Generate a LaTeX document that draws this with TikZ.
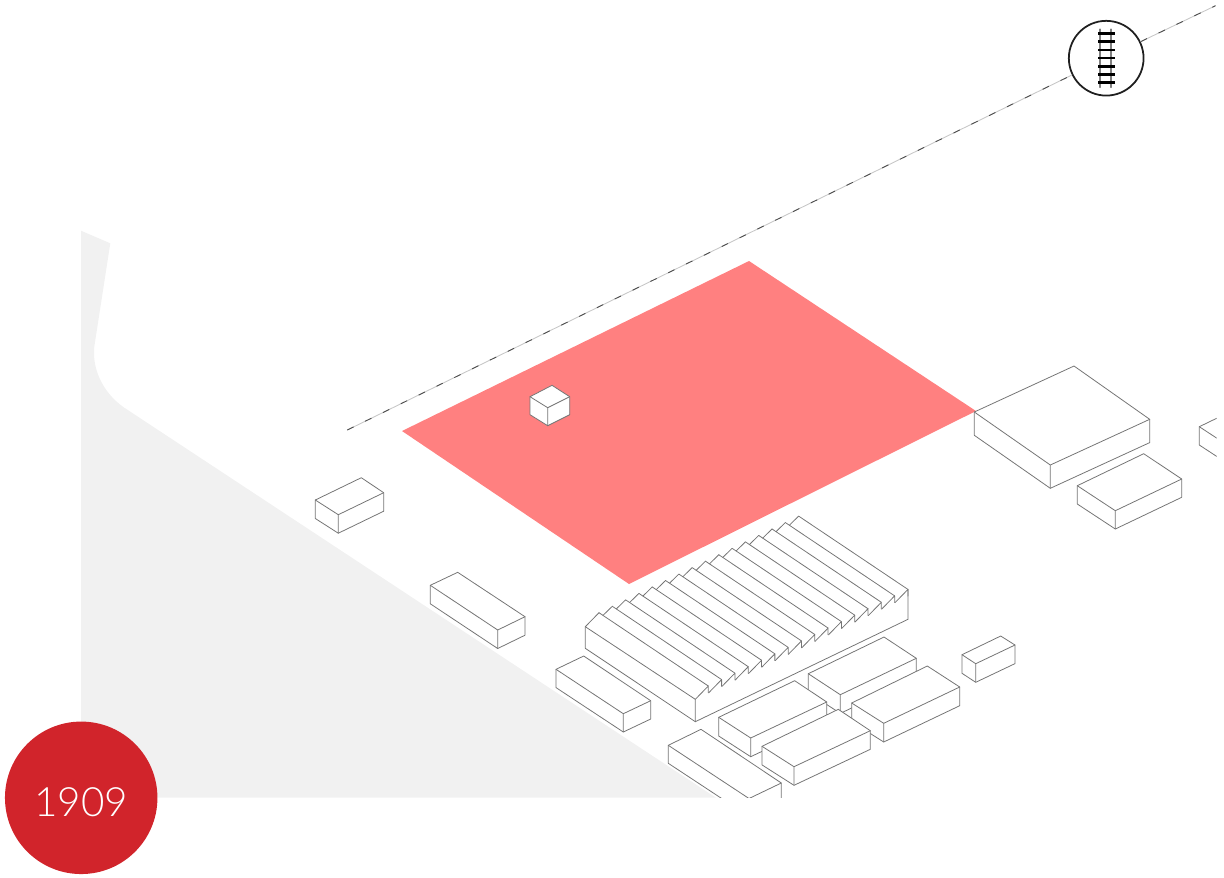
\documentclass[tikz,border=0pt]{standalone}
\usepackage{fontspec}
\usetikzlibrary{calc}
\newfontfamily\yearfont{Lato Light}
\definecolor{groundgray}{HTML}{F1F1F1}
\definecolor{plotpink}{HTML}{FF8080}
\definecolor{badgered}{HTML}{D1242B}
\definecolor{edgegray}{HTML}{757575}
% top corners: left, back, right, front; last argument is the wall height
\newcommand{\isoblock}[5]{%
  \filldraw[block] (#1) -- (#2) -- (#3) -- ++(0,#5) -- ($(#4)+(0,#5)$) -- ($(#1)+(0,#5)$) -- cycle;
  \draw[edge] (#1) -- (#4) -- (#3) (#4) -- ++(0,#5);}
\begin{document}
\begin{tikzpicture}[x=0.02cm, y=-0.02cm, line cap=round,
  edge/.style={draw=edgegray, line width=0.45pt, line join=round},
  block/.style={edge, fill=white},
  railline/.style={draw=black!22, line width=0.5pt,
    postaction={draw=black!70, line cap=butt, dash pattern=on 4pt off 7.3pt}},
  railmark/.style={draw=black!88, fill=white, circle, line width=1pt, minimum size=1.495cm, inner sep=0pt},
  badge/.style={fill=badgered, circle, minimum size=3.05cm, inner sep=0pt, text=white, text height=21.5pt, text depth=0pt,
    font=\yearfont\fontsize{23}{23}\selectfont}]
\useasboundingbox (0,0) rectangle (1224,877);

% ---------- ground and building plot ----------
\fill[groundgray] (81,230.7) -- (110.3,243.3) -- (94.3,346.7) .. controls (92,368) and (102,392) .. (124,407.5)
  -- (716,797.7) -- (81,797.7) -- cycle;
\fill[plotpink] (402,431) -- (749,261) -- (976,411) -- (629,584) -- cycle;

% ---------- railway line with its marker ----------
\coordinate (linestart) at (347.3,430);
\coordinate (lineend) at (1215.5,5.7);
\node[railmark] (rail) at (1106.2,58.2) {};
\draw[railline] (linestart) -- (rail);
\draw[railline] (rail) -- (lineend);
\draw[draw=black!50, line width=1pt] (1100.3,29.3) -- (1100.3,87.3) (1111.3,29.3) -- (1111.3,87.3);
\foreach \y in {33.3,41.6,49.9,58.1,66.3,74.4,82.5}
  \draw[black, line width=1.5pt, line cap=butt] (1098,\y) -- (1114.7,\y);

% ---------- blocks ----------
\isoblock{530,396.7}{552,385.3}{569.7,396.7}{547.7,407.7}{18}
\isoblock{974.3,412}{1074,366}{1149.7,419.3}{1050.3,465}{23.3}
\isoblock{1077.3,485.7}{1143.7,453.7}{1181.7,479}{1115.3,510.7}{18.3}
\isoblock{315.3,500}{361.3,477.7}{383.7,492.7}{338.3,514.7}{18.5}
\isoblock{430.3,585.3}{457.7,572.3}{525,616.7}{497.7,630}{18.5}
\isoblock{556,669.3}{583.7,656}{650.7,700.7}{623.3,713.7}{18.3}
\isoblock{962,654.7}{1000.7,636}{1015,645}{975.7,663.7}{18.6}
\isoblock{808.3,673.7}{884,637}{916.3,658.3}{840.3,694.7}{18.7}
\isoblock{851.7,703}{927.3,666}{959.7,687}{883.7,723.3}{18.7}
\isoblock{718.7,717.3}{794.7,680.7}{826.7,702}{750.7,738}{18.7}
\isoblock{762,746.3}{838.3,709.3}{870.3,730.7}{794,766.7}{18.6}
% these two run off the sheet
\begin{scope}
\clip (0,0) rectangle (1216.7,797.7);
\isoblock{668.3,745.3}{701,729.3}{781.3,783}{749,798.5}{18}
\isoblock{1199.3,426.7}{1245,404.5}{1290,434}{1244,456}{18.3}
\end{scope}

% ---------- saw-tooth shed ----------
\draw[edge] (599,612.7) -- (585.3,626.7) -- (695.3,699.3) -- (695.3,721.7) -- (908,619.3) -- (908,589.3);
\draw[edge] (585.3,626.7) -- (585.3,648.3) -- (695.3,721.7);
\foreach \k in {0,...,15} {
  \begin{scope}[shift={({13.31*\k},{-6.44*\k})}]
    \draw[edge] (695.3,699.3) -- (708.3,686) -- (708.3,692.7);
    \draw[edge] (708.3,686) -- (599,612.7);
    \ifnum\k>0 \draw[edge] (599,612.7) -- (589.7,621.8); \fi
  \end{scope}
}

% ---------- year badge ----------
\node[badge] (year) at (81.2,797.8) {1909};

\end{tikzpicture}
\end{document}
